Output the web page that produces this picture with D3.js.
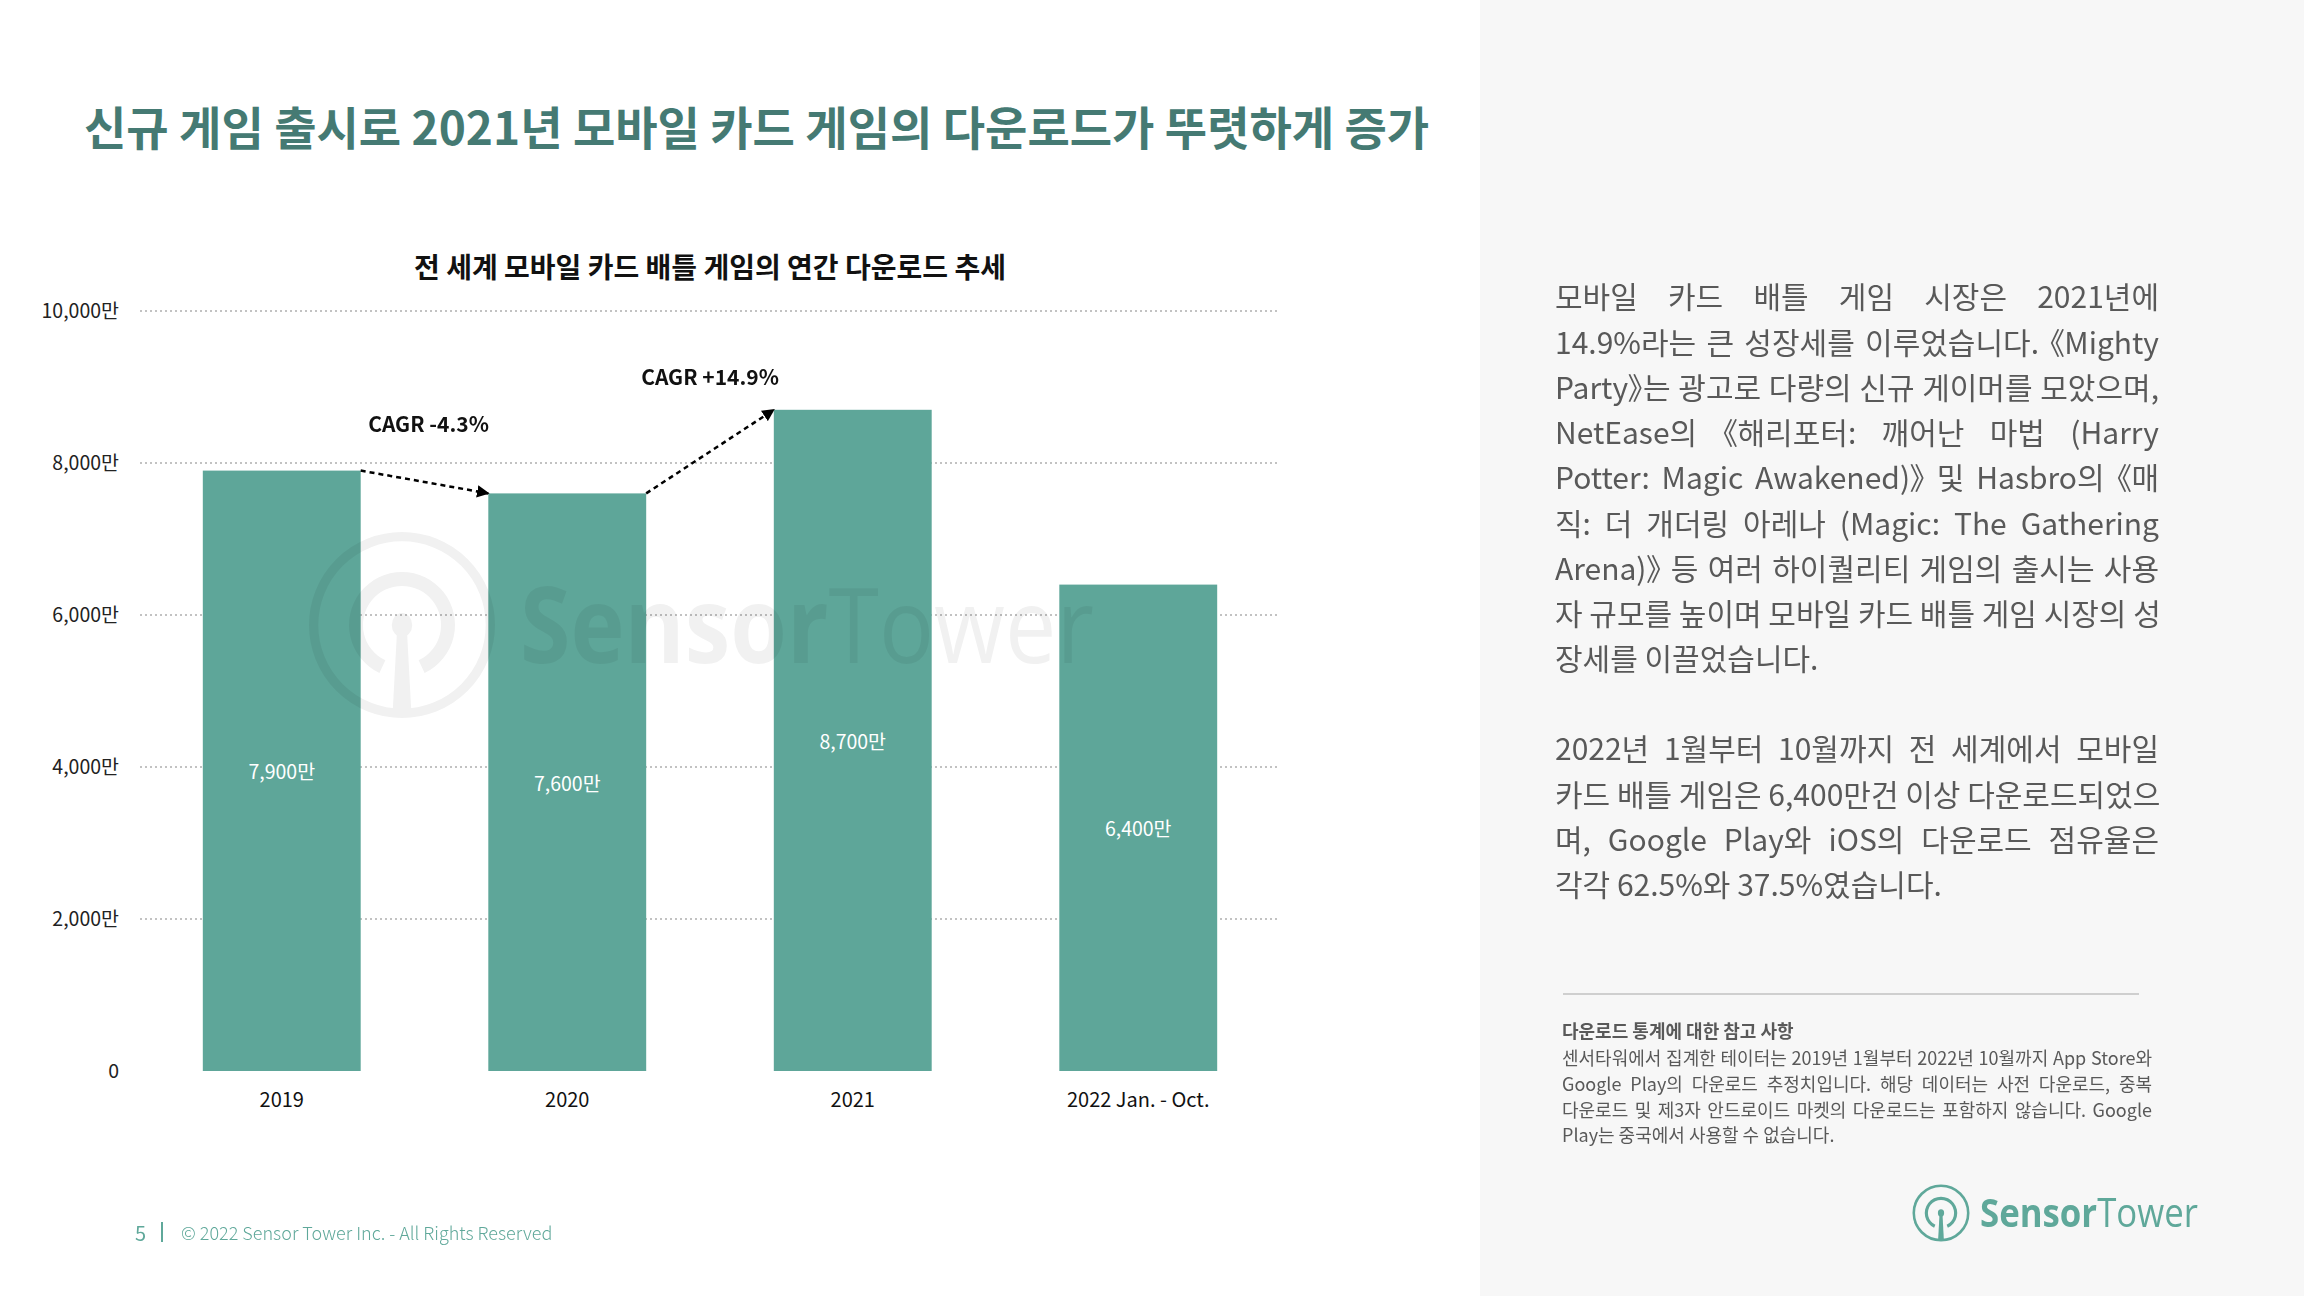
<!DOCTYPE html>
<html><head><meta charset="utf-8">
<script src="https://cdn.jsdelivr.net/npm/d3@7"></script>
<style>
body{margin:0;width:2304px;height:1296px;overflow:hidden;background:#fff;font-family:"Noto Sans CJK KR","Noto Sans",sans-serif;}
#panel{position:absolute;left:1480px;top:0;width:824px;height:1296px;background:#f7f7f7;}
svg{position:absolute;left:0;top:0;}
.para{position:absolute;color:#595959;}
.line{white-space:nowrap;text-align:justify;text-align-last:justify;text-justify:inter-word;}
.line.last{text-align-last:left;}
.br{font-feature-settings:"palt";display:inline-block;}
</style></head><body>
<div id="panel"></div>
<svg id="chart" width="2304" height="1296"></svg>
<div id="texts"></div>
<script>
// ---------- data ----------
const pageTitle = "신규 게임 출시로 2021년 모바일 카드 게임의 다운로드가 뚜렷하게 증가";
const chartTitle = "전 세계 모바일 카드 배틀 게임의 연간 다운로드 추세";
const categories = ["2019", "2020", "2021", "2022 Jan. - Oct."];
const downloads = [7900, 7600, 8700, 6400];           // 단위: 만
const yTicks = [0, 2000, 4000, 6000, 8000, 10000];
const cagrFrom = [0, 1];
const cagrTo = [1, 2];
const cagrText = ["CAGR -4.3%", "CAGR +14.9%"];
const para1 = [
  "모바일 카드 배틀 게임 시장은 2021년에",
  "14.9%라는 큰 성장세를 이루었습니다. 《Mighty",
  "Party》는 광고로 다량의 신규 게이머를 모았으며,",
  "NetEase의 《해리포터: 깨어난 마법 (Harry",
  "Potter: Magic Awakened)》 및 Hasbro의 《매",
  "직: 더 개더링 아레나 (Magic: The Gathering",
  "Arena)》 등 여러 하이퀄리티 게임의 출시는 사용",
  "자 규모를 높이며 모바일 카드 배틀 게임 시장의 성",
  "장세를 이끌었습니다."
];
const para2 = [
  "2022년 1월부터 10월까지 전 세계에서 모바일",
  "카드 배틀 게임은 6,400만건 이상 다운로드되었으",
  "며, Google Play와 iOS의 다운로드 점유율은",
  "각각 62.5%와 37.5%였습니다."
];
const noteTitle = "다운로드 통계에 대한 참고 사항";
const noteLines = [
  "센서타워에서 집계한 테이터는 2019년 1월부터 2022년 10월까지 App Store와",
  "Google Play의 다운로드 추정치입니다. 해당 데이터는 사전 다운로드, 중복",
  "다운로드 및 제3자 안드로이드 마켓의 다운로드는 포함하지 않습니다. Google",
  "Play는 중국에서 사용할 수 없습니다."
];
const footerPage = "5";
const footerText = "© 2022 Sensor Tower Inc. - All Rights Reserved";
const brandBold = "Sensor";
const brandLight = "Tower";

// ---------- layout ----------
const TEAL = "#5ea699", TITLE = "#457a73", LOGO = "#5fa89a";
const svg = d3.select("#chart");
const FONT = '"Noto Sans CJK KR","Noto Sans",sans-serif';

// page title
svg.append("text").attr("x", 84).attr("y", 125).attr("dominant-baseline", "central")
  .attr("font-family", FONT).attr("font-weight", 700).attr("font-size", 46)
  .attr("fill", TITLE).text(pageTitle);

// chart title
svg.append("text").attr("x", 710).attr("y", 266).attr("text-anchor", "middle").attr("dominant-baseline", "central")
  .attr("font-family", FONT).attr("font-weight", 700).attr("font-size", 28)
  .attr("fill", "#111").text(chartTitle);

const x = d3.scaleBand().domain(categories).range([140, 1280]).paddingInner(0.447).paddingOuter(0.22);
const y = d3.scaleLinear().domain([0, 10000]).range([1071, 311]);

// gridlines
const grid = svg.append("g");
grid.selectAll("line").data(yTicks.filter(d => d > 0)).join("line")
  .attr("x1", 140).attr("x2", 1277).attr("y1", d => y(d)).attr("y2", d => y(d))
  .attr("stroke", "#c2c2c2").attr("stroke-width", 2).attr("stroke-dasharray", "2,3");

// y axis labels
const yAxis = d3.axisLeft(y).tickValues(yTicks).tickSize(0).tickPadding(0)
  .tickFormat(d => d === 0 ? "0" : d3.format(",")(d) + "만");
const ya = svg.append("g").attr("transform", "translate(119,0)").call(yAxis);
ya.select(".domain").remove();
ya.selectAll("text").attr("font-family", FONT).attr("font-size", 19.5).attr("fill", "#222").attr("dy", "0.35em");

// bars
svg.append("g").selectAll("rect").data(downloads).join("rect")
  .attr("x", (d, i) => x(categories[i])).attr("width", x.bandwidth())
  .attr("y", d => y(d)).attr("height", d => y(0) - y(d)).attr("fill", TEAL);

// logo drawing
function drawLogo(g, cx, cy, R, color, ring, inner) {
  g.append("circle").attr("cx", cx).attr("cy", cy).attr("r", R * (1 - ring / 2))
    .attr("fill", "none").attr("stroke", color).attr("stroke-width", R * ring);
  const arc = d3.arc().innerRadius(R * (0.57 - inner)).outerRadius(R * 0.57)
    .startAngle(-Math.PI * 0.86).endAngle(Math.PI * 0.86);
  g.append("path").attr("transform", `translate(${cx},${cy})`).attr("d", arc()).attr("fill", color);
  g.append("ellipse").attr("cx", cx).attr("cy", cy).attr("rx", R * 0.11).attr("ry", R * 0.13).attr("fill", color);
  const stem = d3.line()([[cx - R * 0.05, cy], [cx + R * 0.05, cy], [cx + R * 0.1, cy + R * 0.93], [cx - R * 0.1, cy + R * 0.93]]);
  g.append("path").attr("d", stem + "Z").attr("fill", color);
}
function brandText(g, x0, x1, yb, size, color) {
  const gg = g.append("g");
  const t = gg.append("text").attr("x", 0).attr("y", 0).attr("font-family", '"Open Sans",sans-serif')
    .attr("font-size", size).attr("fill", color);
  t.append("tspan").attr("font-weight", 700).text(brandBold);
  t.append("tspan").attr("font-weight", 400).text(brandLight);
  const w = t.node().getComputedTextLength();
  gg.attr("transform", `translate(${x0},${yb}) scale(${(x1 - x0) / w},1)`);
}

// watermark
const wm = svg.append("g").attr("opacity", 0.055);
drawLogo(wm, 402, 625, 93, "#000", 0.1, 0.15);
brandText(wm, 520, 1094, 663, 105, "#000");

// bar value labels
svg.append("g").selectAll("text").data(downloads).join("text")
  .attr("x", (d, i) => x(categories[i]) + x.bandwidth() / 2)
  .attr("y", d => (y(d) + y(0)) / 2).attr("text-anchor", "middle").attr("dominant-baseline", "central")
  .attr("font-family", FONT).attr("font-size", 19.5).attr("fill", "#fff")
  .text(d => d3.format(",")(d) + "만");

// x axis labels
const xAxis = d3.axisBottom(x).tickSize(0).tickPadding(0);
const xa = svg.append("g").attr("transform", "translate(0,1100)").call(xAxis);
xa.select(".domain").remove();
xa.selectAll("text").attr("font-family", FONT).attr("font-size", 20).attr("fill", "#111").attr("dy", "0.35em");

// CAGR arrows
const defs = svg.append("defs");
defs.append("marker").attr("id", "arr").attr("viewBox", "0 0 10 10").attr("refX", 9).attr("refY", 5)
  .attr("markerWidth", 5).attr("markerHeight", 5).attr("orient", "auto-start-reverse")
  .append("path").attr("d", "M0,0L10,5L0,10Z").attr("fill", "#000");
const labelLift = [48, 34];
const labelShift = [4, 0];
cagrFrom.forEach((f, k) => {
  const t = cagrTo[k];
  const x1 = x(categories[f]) + x.bandwidth(), y1 = y(downloads[f]);
  const x2 = x(categories[t]), y2 = y(downloads[t]);
  svg.append("line").attr("x1", x1).attr("y1", y1).attr("x2", x2).attr("y2", y2)
    .attr("stroke", "#000").attr("stroke-width", 2.5).attr("stroke-dasharray", "5,4")
    .attr("marker-end", "url(#arr)");
  svg.append("text").attr("x", (x1 + x2) / 2 + labelShift[k]).attr("y", Math.min(y1, y2) - labelLift[k])
    .attr("text-anchor", "middle").attr("dominant-baseline", "central")
    .attr("font-family", FONT).attr("font-weight", 700).attr("font-size", 21).attr("fill", "#111")
    .text(cagrText[k]);
});

// footer
const ft = svg.append("g").attr("font-family", FONT).attr("fill", LOGO);
ft.append("text").attr("x", 135).attr("y", 1232).attr("dominant-baseline", "central").attr("font-size", 20).text(footerPage);
ft.append("line").attr("x1", 162).attr("x2", 162).attr("y1", 1222).attr("y2", 1242).attr("stroke", LOGO).attr("stroke-width", 2);
ft.append("text").attr("x", 181).attr("y", 1232).attr("dominant-baseline", "central").attr("font-size", 18)
  .attr("font-weight", 300).text(footerText);

// right panel separator
svg.append("line").attr("x1", 1563).attr("x2", 2139).attr("y1", 994).attr("y2", 994)
  .attr("stroke", "#cfcfcf").attr("stroke-width", 2);

// logo bottom right
const lg = svg.append("g");
drawLogo(lg, 1941, 1213, 28.5, LOGO, 0.09, 0.11);
brandText(lg, 1980, 2198, 1227, 40, LOGO);

// ---------- HTML text blocks ----------
const texts = d3.select("#texts");
const withBrackets = l => l.replace(/([《》])/g, '<span class="br">$1</span>');
function block(lines, left, top, width, size, lh) {
  const d = texts.append("div").attr("class", "para")
    .style("left", left + "px").style("top", top + "px").style("width", width + "px")
    .style("font-size", size + "px").style("line-height", lh + "px");
  d.selectAll("div").data(lines).join("div")
    .attr("class", (l, i) => "line" + (i === lines.length - 1 ? " last" : ""))
    .style("height", lh + "px").html(withBrackets);
  return d;
}
block(para1, 1555, 296 - 22.6, 604, 30, 45.25);
block(para2, 1555, 748 - 22.6, 604, 30, 45.25);
texts.append("div").attr("class", "para").style("left", "1562px").style("top", (1031 - 12.85) + "px")
  .style("font-size", "18px").style("line-height", "25.7px").style("font-weight", 700).text(noteTitle);
block(noteLines, 1562, 1058 - 12.85, 590, 18, 25.7);
</script>
</body></html>
